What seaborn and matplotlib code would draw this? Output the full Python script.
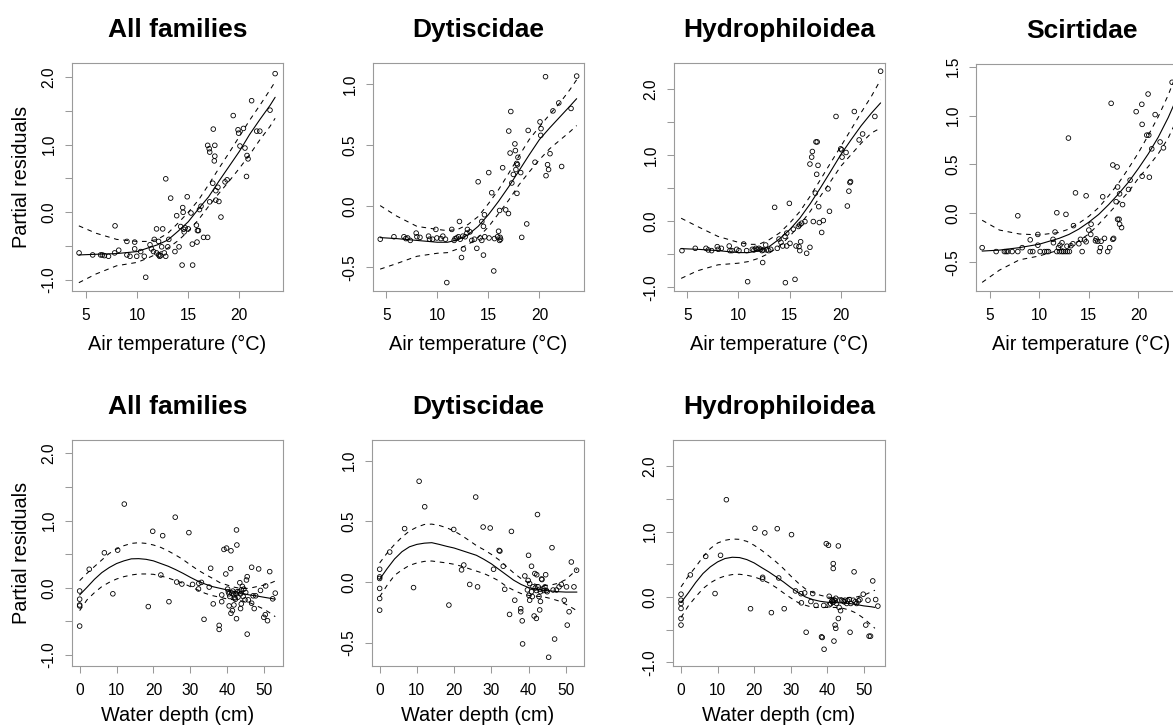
import matplotlib
matplotlib.use("Agg")
import matplotlib.pyplot as plt
import numpy as np
import pandas as pd
import seaborn as sns

sns.set_style("white")
plt.rcParams["font.family"] = ["Liberation Sans", "DejaVu Sans"]
plt.rcParams["text.color"] = "black"
plt.rcParams["axes.labelcolor"] = "black"
plt.rcParams["xtick.color"] = "black"
plt.rcParams["ytick.color"] = "black"

# ---------------- data: air temperature panels ----------------
TEMP_ALL_X = [4.32, 5.65, 6.43, 6.6, 6.8, 7.2, 7.84, 7.8, 8.2, 9.0,
              9.0, 9.3, 9.76, 9.76, 9.96, 10.35, 10.7, 10.84, 11.26, 11.68,
              11.4, 11.6, 11.9, 11.9, 12.1, 12.1, 12.2, 12.3, 12.5, 12.4,
              12.8, 12.66, 12.8, 13.0, 13.1, 13.28, 13.7, 13.87, 14.1, 14.46,
              14.26, 14.4, 14.5, 14.55, 14.6, 14.7, 14.9, 15.0, 15.27, 15.4,
              15.43, 15.8, 15.9, 16.0, 15.86, 16.1, 16.25, 16.5, 16.9, 16.9,
              17.05, 17.1, 17.1, 17.4, 17.45, 17.55, 17.6, 17.6, 17.7, 17.7,
              17.9, 18.0, 18.2, 18.6, 18.8, 19.4, 19.87, 19.93, 20.06, 20.4,
              20.55, 20.75, 20.85, 20.7, 21.2, 21.7, 22.0, 23.0, 23.5]
TEMP_ALL_Y = [-0.60, -0.63, -0.63, -0.63, -0.64, -0.65, -0.20, -0.60, -0.56, -0.43,
              -0.63, -0.65, -0.44, -0.54, -0.65, -0.58, -0.65, -0.96, -0.48, -0.40,
              -0.54, -0.58, -0.245, -0.60, -0.63, -0.43, -0.65, -0.64, -0.245, -0.51,
              0.495, -0.60, -0.65, -0.51, -0.40, 0.21, -0.58, -0.05, -0.51, 0.07,
              -0.21, -0.78, 0.0, -0.25, -0.29, -0.23, 0.23, -0.245, -0.01, -0.47,
              -0.78, -0.19, -0.27, -0.27, -0.44, 0.04, 0.09, -0.37, -0.37, 0.99,
              0.94, 0.89, 0.155, 0.43, 1.23, 0.76, 0.83, 0.99, 0.32, 0.18,
              0.37, 0.16, -0.07, 0.45, 0.48, 1.43, 1.22, 1.17, 0.98, 1.24,
              0.95, 0.84, 0.79, 0.53, 1.65, 1.20, 1.20, 1.51, 2.05]
TEMP_ALL_CX = [4.3, 6, 8, 10, 11, 12, 13, 14, 15, 16, 17, 18, 19, 20, 21, 22, 23, 23.5]
TEMP_ALL_FIT = [-0.63, -0.62, -0.61, -0.58, -0.53, -0.48, -0.41, -0.28, -0.14, 0.05,
                0.23, 0.46, 0.68, 0.90, 1.15, 1.37, 1.58, 1.70]
TEMP_ALL_UP = [-0.20, -0.31, -0.40, -0.43, -0.43, -0.40, -0.31, -0.16, 0.0, 0.18,
               0.41, 0.65, 0.88, 1.12, 1.36, 1.58, 1.81, 1.93]
TEMP_ALL_LO = [-1.04, -0.91, -0.79, -0.74, -0.68, -0.61, -0.53, -0.42, -0.28, -0.11,
               0.09, 0.28, 0.46, 0.65, 0.85, 1.07, 1.27, 1.39]

TEMP_DYT_X = [4.41, 5.75, 6.73, 6.92, 7.09, 7.35, 7.93, 8.0, 8.3, 9.14,
              9.24, 9.53, 9.86, 9.96, 10.35, 10.54, 10.8, 10.93, 11.42, 11.65,
              11.75, 11.9, 12.17, 12.07, 12.24, 12.5, 12.73, 12.9, 12.37, 12.56,
              12.95, 13.2, 13.38, 13.64, 13.87, 14.0, 14.19, 14.36, 14.36, 14.52,
              14.62, 14.52, 14.65, 15.04, 15.07, 15.33, 15.53, 15.6, 15.9, 16.0,
              16.1, 16.15, 16.2, 16.1, 16.4, 16.7, 16.97, 17.0, 17.2, 17.13,
              17.3, 17.45, 17.6, 17.65, 17.78, 17.85, 17.9, 17.7, 17.8, 18.17,
              18.27, 18.76, 18.9, 19.57, 20.06, 20.13, 20.16, 20.6, 20.65, 20.8,
              20.9, 21.04, 21.33, 21.9, 22.18, 23.1, 23.65]
TEMP_DYT_Y = [-0.27, -0.25, -0.25, -0.265, -0.26, -0.28, -0.22, -0.25, -0.255, -0.245,
              -0.27, -0.27, -0.19, -0.26, -0.265, -0.245, -0.27, -0.625, -0.19, -0.28,
              -0.265, -0.26, -0.125, -0.25, -0.27, -0.245, -0.25, -0.22, -0.42, -0.35,
              -0.19, -0.21, -0.28, -0.27, -0.345, 0.20, -0.26, -0.28, -0.125, -0.165,
              -0.07, -0.40, -0.25, 0.275, -0.26, 0.11, -0.53, -0.265, -0.25, -0.205,
              -0.28, -0.255, -0.27, -0.035, 0.315, -0.03, -0.06, 0.615, 0.775, 0.435,
              0.19, 0.26, 0.51, 0.455, 0.35, 0.34, 0.40, 0.30, 0.105, 0.275,
              -0.255, -0.145, 0.62, 0.36, 0.69, 0.58, 0.635, 1.06, 0.25, 0.34,
              0.30, 0.43, 0.78, 0.845, 0.325, 0.80, 1.065]
TEMP_DYT_CX = [4.4, 6, 8, 10, 11, 12, 13, 14, 15, 16, 17, 18, 19, 20, 21, 22, 23, 23.65]
TEMP_DYT_FIT = [-0.257, -0.265, -0.28, -0.295, -0.295, -0.275, -0.235, -0.165, -0.07, 0.04,
                0.16, 0.29, 0.42, 0.545, 0.64, 0.73, 0.82, 0.88]
TEMP_DYT_UP = [0.005, -0.08, -0.165, -0.19, -0.20, -0.19, -0.15, -0.085, 0.02, 0.135,
               0.27, 0.41, 0.545, 0.65, 0.75, 0.845, 0.955, 1.035]
TEMP_DYT_LO = [-0.515, -0.47, -0.41, -0.385, -0.38, -0.35, -0.315, -0.255, -0.17, -0.06,
               0.05, 0.175, 0.28, 0.38, 0.47, 0.54, 0.61, 0.66]

TEMP_HYD_X = [4.48, 5.78, 6.83, 7.05, 7.38, 7.93, 8.03, 8.33, 9.1, 9.17,
              9.37, 9.83, 10.05, 10.51, 10.9, 10.8, 11.36, 11.52, 11.69, 11.85,
              12.0, 12.17, 12.3, 12.43, 12.37, 12.66, 12.76, 12.96, 13.15, 13.54,
              13.8, 13.97, 14.16, 14.33, 14.59, 14.55, 14.72, 14.72, 14.98, 15.04,
              15.37, 15.53, 15.63, 15.92, 15.86, 16.0, 16.18, 16.0, 16.08, 16.5,
              16.67, 16.99, 16.99, 17.16, 17.23, 17.32, 17.52, 17.58, 17.7, 17.65,
              17.78, 17.85, 17.91, 18.14, 18.3, 18.76, 18.9, 19.54, 20.0, 20.13,
              20.1, 20.52, 20.65, 20.8, 20.9, 20.96, 21.33, 21.8, 22.14, 23.34,
              23.9]
TEMP_HYD_Y = [-0.445, -0.41, -0.41, -0.435, -0.445, -0.385, -0.425, -0.41, -0.375, -0.445,
              -0.445, -0.425, -0.445, -0.345, -0.915, -0.445, -0.425, -0.435, -0.41, -0.425,
              -0.41, -0.425, -0.445, -0.435, -0.625, -0.36, -0.435, -0.445, -0.425, 0.21,
              -0.41, -0.27, -0.32, -0.375, -0.93, -0.23, -0.18, -0.375, 0.27, -0.335,
              -0.12, -0.88, -0.375, -0.385, -0.08, -0.055, -0.03, -0.445, -0.31, -0.005,
              -0.485, -0.395, 0.865, 0.97, 1.055, -0.005, 0.425, 1.20, 1.20, 0.71,
              0.845, 0.22, -0.02, -0.17, 0.01, 0.49, 0.15, 1.585, 1.095, 0.97,
              1.08, 1.04, 0.23, 0.455, 0.585, 0.60, 1.66, 1.23, 1.32, 1.585,
              2.27]
TEMP_HYD_CX = [4.4, 6, 8, 10, 11, 12, 13, 14, 15, 16, 17, 18, 19, 20, 21, 22, 23, 23.9]
TEMP_HYD_FIT = [-0.415, -0.425, -0.445, -0.475, -0.475, -0.445, -0.385, -0.27, -0.13, 0.045,
                0.26, 0.50, 0.75, 1.005, 1.23, 1.445, 1.635, 1.79]
TEMP_HYD_UP = [0.045, -0.08, -0.23, -0.32, -0.35, -0.35, -0.28, -0.18, -0.03, 0.145,
               0.375, 0.625, 0.88, 1.13, 1.385, 1.645, 1.89, 2.14]
TEMP_HYD_LO = [-0.865, -0.75, -0.66, -0.635, -0.61, -0.56, -0.485, -0.375, -0.23, -0.055,
               0.145, 0.375, 0.60, 0.83, 1.005, 1.18, 1.335, 1.41]

TEMP_SCI_X = [4.26, 5.67, 6.5, 6.68, 6.85, 7.28, 7.85, 7.85, 8.29, 9.1,
              9.1, 9.36, 9.87, 9.87, 10.1, 10.54, 10.77, 10.94, 11.44, 11.78,
              12.05, 12.28, 12.45, 12.65, 12.85, 13.05, 11.78, 11.6, 11.4, 11.95,
              12.1, 12.3, 12.7, 12.95, 12.8, 13.2, 13.4, 13.46, 13.66, 14.0,
              14.16, 14.33, 14.56, 14.73, 14.73, 15.0, 15.2, 15.23, 15.67, 15.74,
              15.9, 16.07, 16.17, 16.24, 16.58, 16.4, 16.9, 17.1, 17.25, 17.42,
              17.42, 17.85, 17.5, 17.75, 17.9, 18.1, 17.9, 18.05, 18.1, 18.3,
              18.4, 19.0, 19.16, 19.77, 20.37, 20.37, 20.34, 20.84, 21.04, 20.97,
              21.1, 21.34, 21.68, 22.18, 22.52, 23.39]
TEMP_SCI_Y = [-0.35, -0.39, -0.39, -0.39, -0.39, -0.39, -0.39, -0.024, -0.35, -0.27,
              -0.39, -0.39, -0.215, -0.325, -0.39, -0.39, -0.39, -0.39, -0.30, -0.39,
              -0.39, -0.39, -0.39, -0.39, -0.39, -0.39, 0.007, -0.19, -0.265, -0.35,
              -0.325, -0.30, -0.01, 0.77, -0.335, -0.33, -0.31, -0.125, 0.21, -0.31,
              -0.265, -0.39, -0.27, -0.29, 0.18, -0.17, -0.215, -0.11, -0.28, -0.26,
              -0.285, -0.39, -0.35, -0.285, -0.255, 0.17, -0.39, -0.35, 1.125, -0.265,
              0.495, 0.475, -0.255, 0.12, 0.27, 0.20, -0.06, -0.06, -0.11, -0.145,
              0.09, 0.245, 0.34, 1.04, 0.38, 0.91, 1.115, 0.80, 0.80, 1.22,
              0.37, 0.66, 1.01, 0.73, 0.67, 1.34]
TEMP_SCI_CX = [4.26, 6, 8, 10, 12, 13, 14, 15, 16, 17, 18, 19, 20, 21, 22, 23, 24]
TEMP_SCI_FIT = [-0.385, -0.375, -0.35, -0.315, -0.255, -0.215, -0.16, -0.09, -0.01, 0.09,
                0.20, 0.32, 0.46, 0.61, 0.78, 0.98, 1.21]
TEMP_SCI_UP = [-0.07, -0.17, -0.21, -0.22, -0.195, -0.16, -0.10, -0.03, 0.06, 0.18,
               0.31, 0.46, 0.62, 0.80, 0.99, 1.21, 1.47]
TEMP_SCI_LO = [-0.705, -0.58, -0.475, -0.435, -0.375, -0.34, -0.28, -0.21, -0.11, 0.0,
               0.11, 0.22, 0.36, 0.48, 0.61, 0.77, 0.99]

# ---------------- data: water depth panels ----------------
DEPTH_CX = [0, 2, 4, 6, 8, 10, 12, 14, 16, 18, 20, 22, 24, 26, 28, 30, 32, 34, 36,
            38, 40, 42, 44, 46, 48, 50, 52, 53]

DEP_ALL_X = [0, 0, 0, 0, 0, 2.6, 6.7, 9.0, 10.3, 12.1,
             18.6, 19.8, 22.0, 22.5, 24.2, 25.9, 26.3, 27.7, 29.6, 30.6,
             32.3, 33.0, 32.2, 33.7, 35.1, 35.5, 36.2, 37.8, 37.8, 38.5,
             38.5, 39.1, 39.8, 39.6, 40.1, 40.3, 40.5, 40.7, 40.5, 40.9,
             41.0, 41.0, 41.4, 41.2, 41.5, 41.7, 42.0, 42.2, 42.5, 42.7, 42.9,
             41.8, 42.5, 42.6, 42.5, 43.2, 43.4, 43.6, 43.8, 44.1, 44.3, 44.5, 44.8,
             43.6, 43.8, 45.2, 45.4, 45.0, 45.7, 45.4, 46.6, 46.6, 47.0, 47.3, 47.7,
             48.5, 49.0, 49.9, 50.3, 50.9, 50.4, 51.5, 52.3, 53.0]
DEP_ALL_Y = [-0.048, -0.17, -0.256, -0.27, -0.57, 0.275, 0.52, -0.09, 0.56, 1.245,
             -0.28, 0.84, 0.19, 0.775, -0.207, 1.05, 0.085, 0.055, 0.82, 0.05,
             0.066, 0.08, -0.018, -0.47, 0.01, 0.29, -0.24, -0.56, -0.62, -0.107,
             -0.207, 0.57, 0.59, 0.205, -0.02, -0.06, -0.09, -0.13, -0.27, 0.285,
             0.55, -0.38, -0.34, -0.08, -0.05, -0.10, -0.15, -0.17, -0.09, -0.06, -0.14,
             -0.256, 0.86, 0.636, -0.46, -0.06, 0.075, -0.09, -0.03, 0.02, -0.13, -0.02, -0.18,
             -0.31, -0.24, 0.115, 0.165, -0.07, -0.18, -0.69, 0.305, -0.23, -0.12, -0.31, -0.12,
             0.28, -0.04, -0.44, -0.40, -0.49, 0.027, 0.24, -0.165, -0.08]
DEP_ALL_FIT = [-0.107, 0.007, 0.125, 0.225, 0.30, 0.36, 0.40, 0.43, 0.433, 0.423, 0.40,
               0.36, 0.32, 0.27, 0.215, 0.155, 0.10, 0.055, 0.017, -0.008, -0.033,
               -0.058, -0.083, -0.107, -0.122, -0.142, -0.16, -0.17]
DEP_ALL_UP = [0.106, 0.215, 0.315, 0.413, 0.51, 0.577, 0.626, 0.66, 0.67, 0.66, 0.636,
              0.60, 0.547, 0.487, 0.42, 0.34, 0.265, 0.20, 0.14, 0.076, 0.04,
              0.007, -0.013, -0.008, 0.017, 0.04, 0.076, 0.10]
DEP_ALL_LO = [-0.34, -0.18, -0.073, 0.017, 0.08, 0.13, 0.165, 0.19, 0.205, 0.205, 0.20,
              0.175, 0.145, 0.106, 0.066, 0.017, -0.033, -0.083, -0.117, -0.142, -0.167,
              -0.18, -0.197, -0.22, -0.27, -0.32, -0.39, -0.43]

DEP_DYT_X = [0, 0, 0, 0, 0, 0, 2.7, 6.7, 9.1, 10.6,
             12.1, 18.6, 19.9, 22.0, 22.6, 24.2, 25.8, 26.3, 27.8, 29.7,
             30.6, 32.1, 32.3, 33.2, 33.6, 34.9, 35.4, 36.3, 37.9, 37.9,
             38.3, 38.4, 39.0, 39.7, 40.0, 40.1, 40.3, 39.9, 40.3, 40.8,
             40.8, 41.0, 41.2, 41.7, 41.8, 42.1, 42.2, 41.5, 42.1, 42.4,
             42.6, 42.8, 43.0, 43.2, 43.2, 43.0, 43.5, 43.6, 43.9, 44.1,
             44.4, 44.6, 44.8, 45.0, 45.4, 46.3, 47.0, 46.6, 47.5, 48.2,
             48.8, 49.6, 50.2, 50.4, 50.9, 51.5, 52.2, 52.9]
DEP_DYT_Y = [0.105, 0.042, 0.029, -0.053, -0.136, -0.232, 0.247, 0.44, -0.046, 0.83,
             0.62, -0.19, 0.433, 0.10, 0.14, -0.02, 0.70, -0.04, 0.453, 0.445,
             0.105, 0.26, 0.255, 0.13, -0.06, -0.267, 0.417, -0.15, -0.22, -0.245,
             -0.32, -0.51, 0.05, -0.065, 0.22, -0.11, -0.15, 0.013, -0.013, 0.13,
             -0.08, -0.12, -0.04, 0.07, -0.05, -0.07, 0.06, -0.28, -0.30, 0.556,
             -0.04, -0.12, -0.06, -0.08, -0.16, -0.23, 0.025, 0.02, -0.055, -0.07,
             -0.04, 0.06, -0.07, -0.08, -0.62, 0.283, -0.47, -0.066, -0.066, -0.04,
             -0.02, -0.15, -0.04, -0.355, -0.245, 0.165, -0.04, 0.097]
DEP_DYT_FIT = [0.023, 0.11, 0.19, 0.25, 0.29, 0.31, 0.32, 0.324, 0.31, 0.294, 0.28,
               0.26, 0.24, 0.22, 0.187, 0.15, 0.105, 0.06, 0.015, -0.02, -0.046,
               -0.06, -0.068, -0.074, -0.08, -0.083, -0.083, -0.083]
DEP_DYT_UP = [0.157, 0.239, 0.31, 0.37, 0.42, 0.452, 0.474, 0.477, 0.466, 0.447, 0.42,
              0.384, 0.343, 0.30, 0.266, 0.228, 0.184, 0.13, 0.075, 0.028, -0.005,
              -0.02, -0.03, -0.025, -0.01, 0.02, 0.075, 0.105]
DEP_DYT_LO = [-0.122, -0.027, 0.055, 0.10, 0.137, 0.157, 0.17, 0.173, 0.165, 0.157, 0.146,
              0.13, 0.11, 0.09, 0.07, 0.042, 0.01, -0.035, -0.068, -0.095, -0.11,
              -0.117, -0.122, -0.136, -0.155, -0.183, -0.218, -0.237]

DEP_HYD_X = [0, 0, 0, 0, 0, 0, 2.55, 6.75, 9.3, 10.8,
             12.4, 19.0, 20.2, 22.3, 22.3, 22.9, 24.7, 26.3, 26.7, 28.2,
             30.2, 31.3, 32.8, 32.9, 33.8, 34.2, 35.5, 36.0, 36.9, 38.4,
             38.6, 39.0, 39.1, 39.7, 40.3, 40.5, 40.5, 40.9, 41.2, 41.4,
             41.6, 41.8, 42.1, 42.3, 41.6, 41.6, 41.8, 42.1, 42.3, 42.5,
             43.0, 43.0, 43.2, 43.6, 43.9, 44.3, 44.6, 44.8, 45.3, 45.5,
             46.0, 46.4, 46.2, 47.3, 47.1, 47.6, 48.0, 48.5, 48.9, 49.8,
             50.5, 51.1, 51.4, 51.8, 52.4, 53.2, 53.8]
DEP_HYD_Y = [0.042, -0.05, -0.10, -0.176, -0.33, -0.43, 0.337, 0.62, 0.052, 0.637,
             1.487, -0.18, 1.05, 0.30, 0.275, 0.98, -0.24, 1.044, 0.29, -0.18,
             0.953, 0.092, 0.05, -0.09, 0.062, -0.54, -0.07, 0.052, -0.13, -0.61,
             -0.62, -0.13, -0.80, 0.815, 0.79, 0.01, -0.12, -0.105, -0.065, -0.055,
             -0.08, -0.045, -0.055, -0.02, 0.51, 0.435, -0.675, -0.43, -0.48, -0.10,
             0.78, -0.33, -0.16, -0.21, -0.05, -0.06, -0.075, -0.05, -0.10, -0.06,
             -0.04, -0.10, -0.54, 0.384, -0.05, -0.075, -0.10, -0.06, -0.04, 0.042,
             -0.43, -0.05, -0.60, -0.60, 0.245, -0.04, -0.14]
DEP_HYD_FIT = [-0.086, 0.062, 0.22, 0.358, 0.46, 0.536, 0.587, 0.607, 0.602, 0.571, 0.52,
               0.45, 0.383, 0.307, 0.23, 0.144, 0.068, 0.0, -0.04, -0.066, -0.081,
               -0.086, -0.091, -0.10, -0.117, -0.137, -0.15, -0.16]
DEP_HYD_UP = [0.154, 0.317, 0.46, 0.612, 0.74, 0.825, 0.866, 0.886, 0.881, 0.85, 0.79,
              0.714, 0.627, 0.536, 0.434, 0.32, 0.215, 0.123, 0.068, 0.027, 0.0,
              -0.015, -0.015, -0.01, 0.0, 0.027, 0.078, 0.103]
DEP_HYD_LO = [-0.314, -0.136, 0.0, 0.128, 0.215, 0.28, 0.32, 0.342, 0.347, 0.332, 0.307,
              0.266, 0.215, 0.144, 0.062, -0.015, -0.086, -0.127, -0.16, -0.16, -0.16,
              -0.16, -0.17, -0.20, -0.25, -0.33, -0.43, -0.48]

TITLES = ["All families", "Dytiscidae", "Hydrophiloidea", "Scirtidae"]
TEMP_TICKS = [5, 10, 15, 20]
DEPTH_TICKS = [0, 10, 20, 30, 40, 50]
Y_TICKS_WIDE = [-1.0, -0.5, 0.0, 0.5, 1.0, 1.5, 2.0]
Y_LABELS_WIDE = ["-1.0", "", "0.0", "", "1.0", "", "2.0"]
Y_TICKS_DYT = [-0.5, 0.0, 0.5, 1.0]
Y_LABELS_DYT = ["-0.5", "0.0", "0.5", "1.0"]
Y_TICKS_SCI = [-0.5, 0.0, 0.5, 1.0, 1.5]
Y_LABELS_SCI = ["-0.5", "0.0", "0.5", "1.0", "1.5"]

# ---------------- figure ----------------
W, H = 1173, 728
fig = plt.figure(figsize=(W / 100, H / 100), dpi=100)
fig.patch.set_facecolor("white")

GRAY = "#9a9a9a"
DASH = (0, (4.5, 4.5))


def panel(box, title, px, py, cx, fit, up, lo, xlim, ylim, xticks, yticks, ylabels,
          xlabel, label_off, show_ylabel):
    l, t, r, b = box
    ax = fig.add_axes([l / W, 1 - b / H, (r - l) / W, (b - t) / H])
    pts = pd.DataFrame({"x": px, "y": py})
    sns.scatterplot(data=pts, x="x", y="y", ax=ax, s=11, marker="o",
                    facecolors="none", edgecolor="black", linewidth=0.6, zorder=3)
    crv = pd.DataFrame({"x": cx, "fit": fit, "up": up, "lo": lo})
    sns.lineplot(data=crv, x="x", y="fit", ax=ax, color="black", linewidth=0.8,
                 estimator=None, sort=False, zorder=4)
    for col in ("up", "lo"):
        sns.lineplot(data=crv, x="x", y=col, ax=ax, color="black", linewidth=0.75,
                     linestyle=DASH, estimator=None, sort=False, zorder=4)
    ax.set_xlim(*xlim)
    ax.set_ylim(*ylim)
    ax.set_xticks(xticks)
    ax.set_xticklabels([str(v) for v in xticks])
    ax.set_yticks(yticks)
    ax.set_yticklabels(ylabels, rotation=90, va="center")
    ax.tick_params(axis="both", direction="out", length=5, width=0.75, color=GRAY,
                   labelsize=11.2, labelcolor="black")
    ax.tick_params(axis="x", pad=7.5, bottom=True)
    ax.tick_params(axis="y", pad=6, left=True)
    for sp in ax.spines.values():
        sp.set_visible(True)
        sp.set_color(GRAY)
        sp.set_linewidth(0.8)
    ax.grid(False)
    ax.set_title(title, fontsize=19, fontweight="bold", pad=18.5, color="black")
    ax.set_xlabel(xlabel, fontsize=14.3, color="black")
    ax.xaxis.set_label_coords(0.5, -label_off / (b - t))
    if show_ylabel:
        ax.set_ylabel("Partial residuals", fontsize=14.3, color="black")
        ax.yaxis.set_label_coords(-41 / (r - l), 0.5)
    else:
        ax.set_ylabel("")
    return ax


TL = "Air temperature (°C)"
DL = "Water depth (cm)"

panel((72, 63, 283, 291), TITLES[0], TEMP_ALL_X, TEMP_ALL_Y, TEMP_ALL_CX,
      TEMP_ALL_FIT, TEMP_ALL_UP, TEMP_ALL_LO, (3.63, 24.27), (-1.163, 2.207),
      TEMP_TICKS, Y_TICKS_WIDE, Y_LABELS_WIDE, TL, 43.5, True)
panel((373, 63, 584, 291), TITLES[1], TEMP_DYT_X, TEMP_DYT_Y, TEMP_DYT_CX,
      TEMP_DYT_FIT, TEMP_DYT_UP, TEMP_DYT_LO, (3.70, 24.37), (-0.694, 1.172),
      TEMP_TICKS, Y_TICKS_DYT, Y_LABELS_DYT, TL, 43.5, False)
panel((674, 63, 885, 291), TITLES[2], TEMP_HYD_X, TEMP_HYD_Y, TEMP_HYD_CX,
      TEMP_HYD_FIT, TEMP_HYD_UP, TEMP_HYD_LO, (3.70, 24.33), (-1.056, 2.394),
      TEMP_TICKS, Y_TICKS_WIDE, Y_LABELS_WIDE, TL, 43.5, False)
panel((976, 64, 1187, 291), TITLES[3], TEMP_SCI_X, TEMP_SCI_Y, TEMP_SCI_CX,
      TEMP_SCI_FIT, TEMP_SCI_UP, TEMP_SCI_LO, (3.64, 24.89), (-0.793, 1.527),
      TEMP_TICKS, Y_TICKS_SCI, Y_LABELS_SCI, TL, 43.5, False)

panel((72, 440, 283, 666), TITLES[0], DEP_ALL_X, DEP_ALL_Y, DEPTH_CX,
      DEP_ALL_FIT, DEP_ALL_UP, DEP_ALL_LO, (-2.07, 55.1), (-1.164, 2.198),
      DEPTH_TICKS, Y_TICKS_WIDE, Y_LABELS_WIDE, DL, 40, True)
panel((372, 440, 584, 666), TITLES[1], DEP_DYT_X, DEP_DYT_Y, DEPTH_CX,
      DEP_DYT_FIT, DEP_DYT_UP, DEP_DYT_LO, (-2.06, 54.9), (-0.692, 1.17),
      DEPTH_TICKS, Y_TICKS_DYT, Y_LABELS_DYT, DL, 40, False)
panel((673, 440, 885, 666), TITLES[2], DEP_HYD_X, DEP_HYD_Y, DEPTH_CX,
      DEP_HYD_FIT, DEP_HYD_UP, DEP_HYD_LO, (-2.19, 55.75), (-1.056, 2.40),
      DEPTH_TICKS, Y_TICKS_WIDE, Y_LABELS_WIDE, DL, 40, False)

fig.savefig("out.png", dpi=100, facecolor="white")
